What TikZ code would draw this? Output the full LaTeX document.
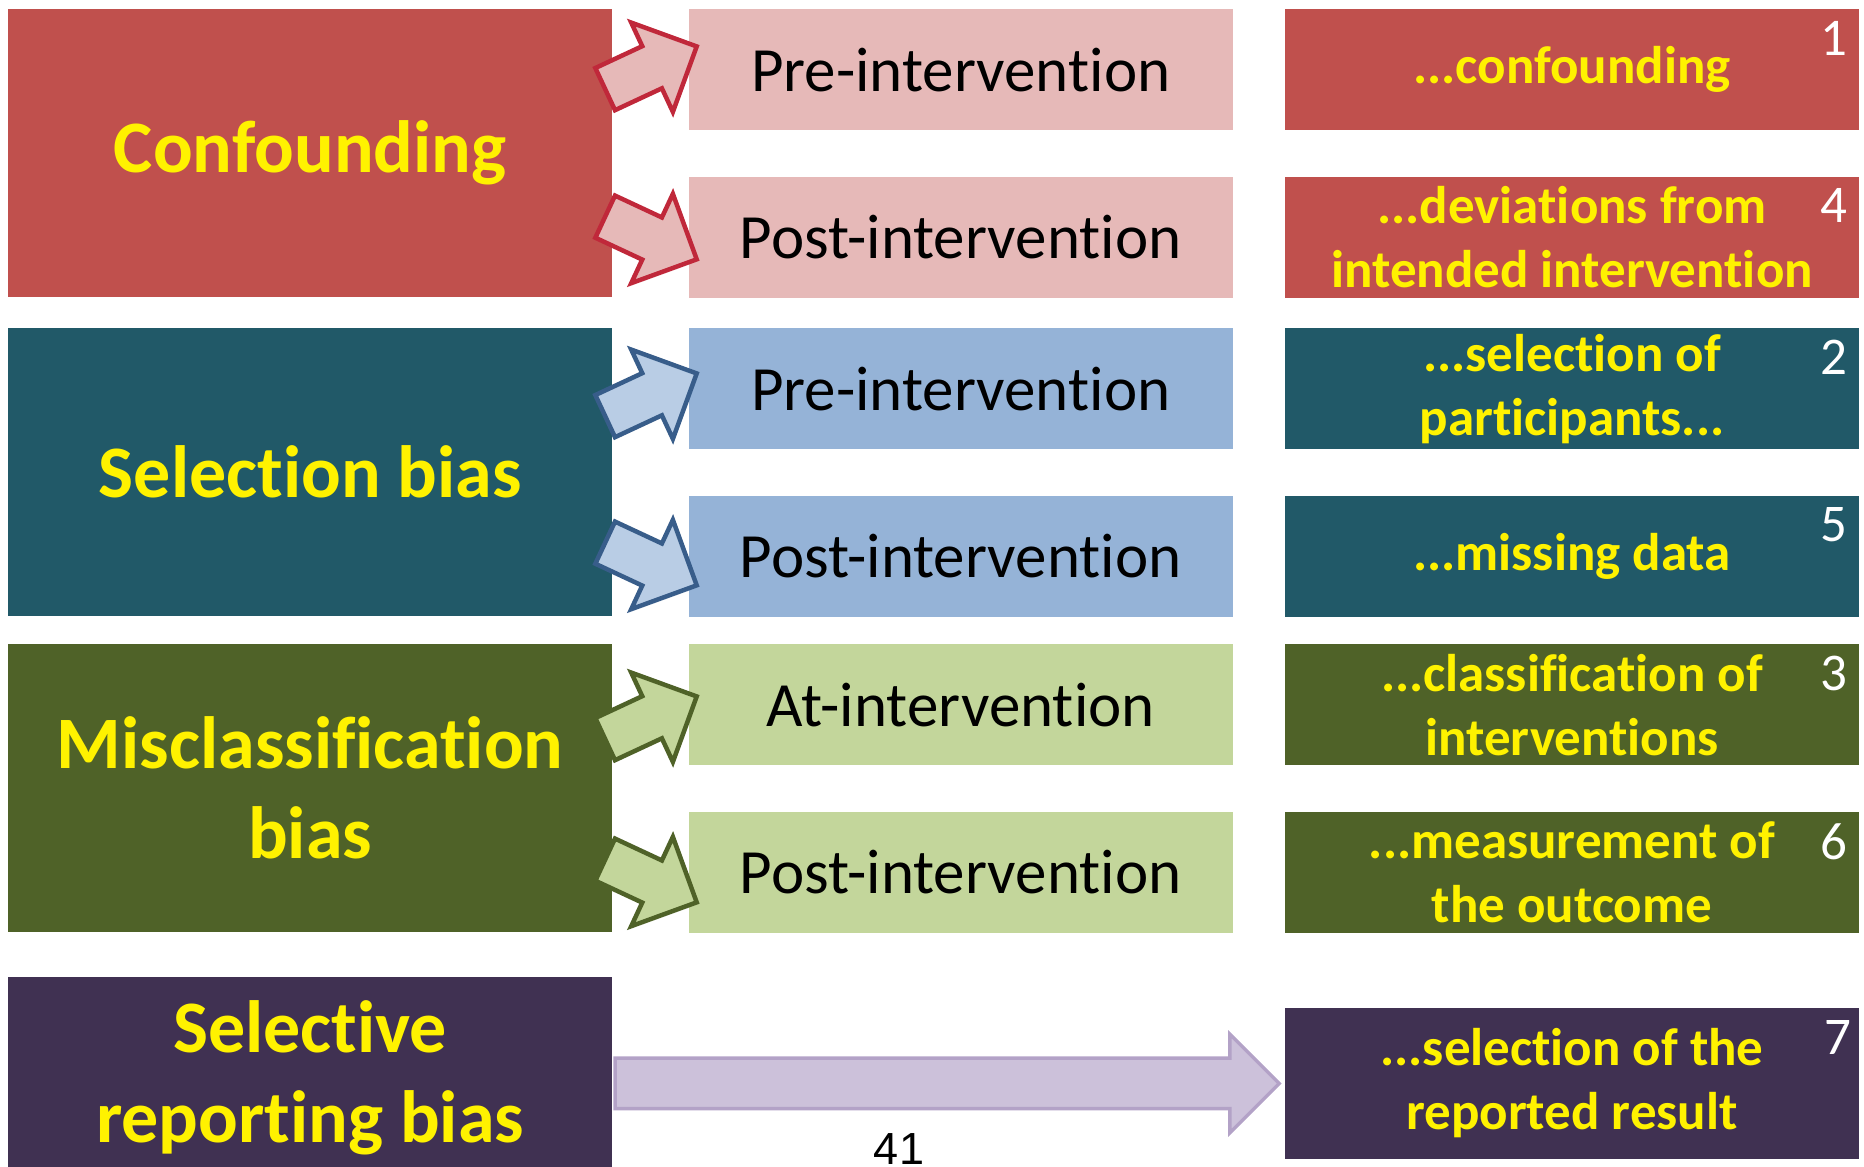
\documentclass[tikz,border=0pt]{standalone}
\usepackage{fontspec}
\setmainfont{Carlito}[RawFeature={-liga;-clig;-calt;-dlig}]
\newfontfamily\arialfont{Liberation Sans}
\usepackage{tikz}
\usetikzlibrary{shapes.arrows,positioning}
\usepackage{xcolor}

\definecolor{cfdark}{HTML}{C0504D}
\definecolor{cfpale}{HTML}{E6B9B8}
\definecolor{cfline}{HTML}{C0283A}
\definecolor{sbdark}{HTML}{215968}
\definecolor{sbpale}{HTML}{95B3D7}
\definecolor{sbarrow}{HTML}{B9CDE5}
\definecolor{sbline}{HTML}{385D8A}
\definecolor{mcdark}{HTML}{4F6228}
\definecolor{mcpale}{HTML}{C3D69B}
\definecolor{srdark}{HTML}{403152}
\definecolor{srpale}{HTML}{CCC1DA}
\definecolor{srline}{HTML}{B3A2C7}

\begin{document}
\begin{tikzpicture}[x=1pt,y=1pt,node distance=46pt,
  cell/.style={rectangle,inner sep=0pt,align=center,anchor=north west},
  biasbox/.style={cell,minimum width=604pt,minimum height=288pt,text=yellow,font=\bfseries\fontsize{74pt}{90pt}\selectfont},
  timebox/.style={cell,minimum width=544pt,minimum height=121pt,font=\fontsize{63pt}{76pt}\selectfont},
  resultbox/.style={cell,minimum width=574pt,minimum height=121pt,text=yellow,font=\bfseries\fontsize{53pt}{64pt}\selectfont},
  itemnum/.style={inner sep=0pt,anchor=north east,text=white,font=\fontsize{53pt}{64pt}\selectfont},
  blockarrow/.style={single arrow,draw,line width=4.5pt,inner xsep=0pt,inner ysep=21pt,minimum height=101pt,single arrow head extend=26pt},
  longarrow/.style={single arrow,draw=srline,fill=srpale,line width=3.5pt,inner xsep=0pt,inner ysep=23.5pt,minimum height=664pt,single arrow head extend=24pt}]
  \useasboundingbox (0,0) rectangle (1864,1167);

  \node[biasbox,fill=cfdark] (cf) at (8,1158) {Confounding};
  \node[biasbox,fill=sbdark] (sb) at (8,839) {Selection bias};
  \node[biasbox,fill=mcdark] (mc) at (8,523) {Misclassification\\bias};
  \node[biasbox,fill=srdark,minimum height=201pt] (sr) at (8,190) {Selective\\reporting bias};

  \node[timebox,fill=cfpale] (cfpre) [right=76pt of cf.north east,anchor=north west] {Pre-intervention};
  \node[timebox,fill=cfpale] (cfpost) [below=of cfpre] {Post-intervention};
  \node[timebox,fill=sbpale] (sbpre) [right=76pt of sb.north east,anchor=north west] {Pre-intervention};
  \node[timebox,fill=sbpale] (sbpost) [below=of sbpre] {Post-intervention};
  \node[timebox,fill=mcpale] (mcat) [right=76pt of mc.north east,anchor=north west] {At-intervention};
  \node[timebox,fill=mcpale] (mcpost) [below=of mcat] {Post-intervention};

  \node[resultbox,fill=cfdark] (d1) [right=52pt of cfpre] {...confounding};
  \node[resultbox,fill=cfdark] (d4) [right=52pt of cfpost] {...deviations from\\intended intervention};
  \node[resultbox,fill=sbdark] (d2) [right=52pt of sbpre] {...selection of\\participants...};
  \node[resultbox,fill=sbdark] (d5) [right=52pt of sbpost] {...missing data};
  \node[resultbox,fill=mcdark] (d3) [right=52pt of mcat] {...classification of\\interventions};
  \node[resultbox,fill=mcdark] (d6) [right=52pt of mcpost] {...measurement of\\the outcome};
  \node[resultbox,fill=srdark,minimum height=151pt] (d7) [below=75pt of d6] {...selection of the\\reported result};

  \node[itemnum] (n1) at ([xshift=-12pt,yshift=-12pt]d1.north east) {1};
  \node[itemnum] (n4) at ([xshift=-12pt,yshift=-12pt]d4.north east) {4};
  \node[itemnum] (n2) at ([xshift=-12pt,yshift=-12pt]d2.north east) {2};
  \node[itemnum] (n5) at ([xshift=-12pt,yshift=-12pt]d5.north east) {5};
  \node[itemnum] (n3) at ([xshift=-12pt,yshift=-12pt]d3.north east) {3};
  \node[itemnum] (n6) at ([xshift=-12pt,yshift=-12pt]d6.north east) {6};
  \node[itemnum] (n7) at ([xshift=-8pt,yshift=-12pt]d7.north east) {7};

  \path (cf.east |- cfpre.west) -- (cfpre.west) node[midway,blockarrow,fill=cfpale,draw=cfline,xshift=-10pt,yshift=-3pt,rotate=25] {};
  \path (cf.east |- cfpost.west) -- (cfpost.west) node[midway,blockarrow,fill=cfpale,draw=cfline,xshift=-10pt,yshift=4pt,rotate=-25] {};
  \path (sb.east |- sbpre.west) -- (sbpre.west) node[midway,blockarrow,fill=sbarrow,draw=sbline,xshift=-10pt,yshift=-11pt,rotate=25] {};
  \path (sb.east |- sbpost.west) -- (sbpost.west) node[midway,blockarrow,fill=sbarrow,draw=sbline,xshift=-10pt,yshift=-3pt,rotate=-25] {};
  \path (mc.east |- mcat.west) -- (mcat.west) node[midway,blockarrow,fill=mcpale,draw=mcdark,xshift=-10pt,yshift=-18pt,rotate=25] {};
  \path (mc.east |- mcpost.west) -- (mcpost.west) node[midway,blockarrow,fill=mcpale,draw=mcdark,xshift=-10pt,yshift=-4pt,rotate=-25] {};
  \path (sr.east |- d7.west) -- (d7.west) node[midway,longarrow,xshift=-14pt] {};

  \node[inner sep=0pt,anchor=north,font=\arialfont\fontsize{45pt}{54pt}\selectfont] (pagenum) at (899,34) {41};
\end{tikzpicture}
\end{document}
